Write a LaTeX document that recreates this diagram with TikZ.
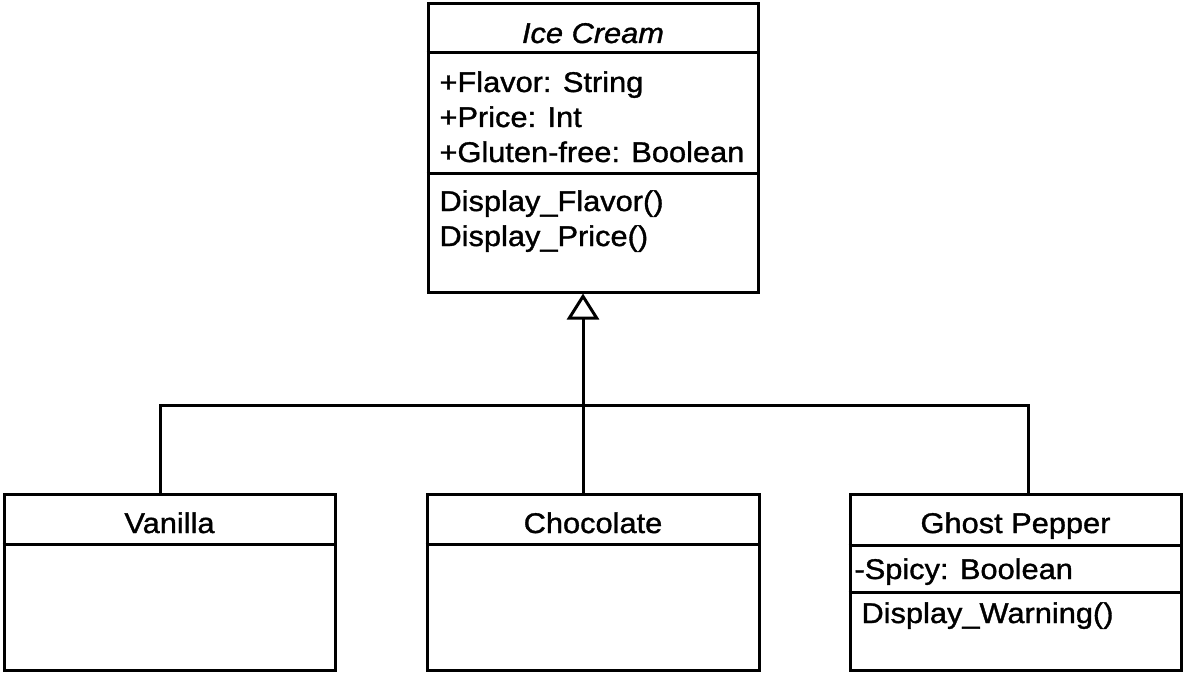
\documentclass[tikz,border=0pt]{standalone}
\usepackage{fontspec}
\setmainfont{Liberation Sans}[FakeStretch=1.08, FakeBold=1.2]
\usetikzlibrary{arrows.meta}

\begin{document}
\begin{tikzpicture}[x=1pt, y=-1pt,
  line width=3pt,
  classbox/.style={draw=black, line width=3pt, rectangle, inner sep=0pt},
  member/.style={anchor=base west, inner sep=0pt, font=\fontsize{28.5}{35}\selectfont},
  title/.style={anchor=base, inner sep=0pt, font=\fontsize{28.5}{35}\selectfont},
  divider/.style={line width=3pt},
  generalization/.style={-{Triangle[open, length=26pt, width=32pt, line width=3pt]}}
]
\useasboundingbox (0,0) rectangle (1186,674);

% Abstract parent class
\node[classbox, minimum width=330pt, minimum height=288pt] (ice) at (593,148) {};
\draw[divider] (ice.west |- 0,53) -- (ice.east |- 0,53);
\draw[divider] (ice.west |- 0,173) -- (ice.east |- 0,173);
\node[title] (iceTitle) at (593,43) {\itshape Ice Cream};
\node[member] (iceA1) at (438,92) {+Flavor: String};
\node[member] (iceA2) at (438,127) {+Price: Int};
\node[member] (iceA3) at (438,162) {+Gluten-free: Boolean};
\node[member] (iceM1) at (438,211) {Display\_Flavor()};
\node[member] (iceM2) at (438,246) {Display\_Price()};

% Subclasses
\node[classbox, minimum width=331pt, minimum height=176pt] (vanilla) at (169.5,582) {};
\draw[divider] (vanilla.west |- 0,544) -- (vanilla.east |- 0,544);
\node[title] (vanillaTitle) at (169.5,533) {Vanilla};

\node[classbox, minimum width=332pt, minimum height=176pt] (choco) at (593,582) {};
\draw[divider] (choco.west |- 0,544) -- (choco.east |- 0,544);
\node[title] (chocoTitle) at (593,533) {Chocolate};

\node[classbox, minimum width=331pt, minimum height=176pt] (ghost) at (1015.5,582) {};
\draw[divider] (ghost.west |- 0,545) -- (ghost.east |- 0,545);
\draw[divider] (ghost.west |- 0,592) -- (ghost.east |- 0,592);
\node[title] (ghostTitle) at (1015.5,533) {Ghost Pepper};
\node[member] (ghostA1) at (853,579) {-Spicy: Boolean};
\node[member] (ghostM1) at (860,623) {Display\_Warning()};

% Inheritance tree
\coordinate (hub) at (583,405);
\coordinate (vbend) at (160,405);
\coordinate (gbend) at (1028,405);
\draw[generalization] (choco.north -| hub) -- (ice.south -| hub);
\draw (vanilla.north -| vbend) -- (vbend) -- (gbend) -- (ghost.north -| gbend);
\end{tikzpicture}
\end{document}
